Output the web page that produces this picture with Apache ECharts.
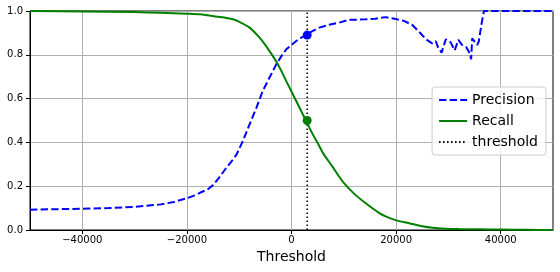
<!DOCTYPE html>
<html><head><meta charset="utf-8">
<script src="https://cdn.jsdelivr.net/npm/echarts@6/dist/echarts.min.js"></script>
<style>html,body{margin:0;padding:0;background:#fff}#c{width:560px;height:272px}</style>
</head><body><div id="c"></div>
<script>
const xTicks = [-40000, -20000, 0, 20000, 40000];
const yTicks = [0, 0.2, 0.4, 0.6, 0.8, 1.0];
const precThr = [-50000,-45000,-40000,-35000,-30000,-25000,-22500,-20000,-18500,-17500,-16000,-15000,-13800,-12500,-11500,-10500,-9300,-8000,-6700,-5500,-4200,-2900,-1900,-1000,0,900,1800,2800,4000,5300,7200,9000,11000,12500,14200,16000,18000,20000,21500,23100,24400,25700,26900,27600,28000,28700,29500,30400,31200,31900,32600,33400,33900,34350,34550,35000,35500,35800,36400,36800,50000];
const precision = [0.093,0.095,0.097,0.100,0.106,0.117,0.128,0.145,0.158,0.170,0.186,0.205,0.240,0.283,0.312,0.345,0.406,0.483,0.559,0.635,0.696,0.757,0.795,0.825,0.845,0.863,0.877,0.890,0.908,0.924,0.937,0.946,0.960,0.960,0.962,0.965,0.972,0.963,0.955,0.936,0.905,0.871,0.852,0.862,0.835,0.810,0.871,0.858,0.820,0.868,0.845,0.835,0.815,0.780,0.875,0.860,0.845,0.860,0.950,1.0,1.0];
const recThr = [-50000,-40000,-30000,-25000,-20000,-17500,-14500,-11200,-9500,-8000,-6100,-4200,-2600,-1000,900,2800,4000,5300,6000,7900,9800,12000,14200,16800,18000,19900,22500,25000,27000,29500,32000,36000,40000,45000,50000];
const recall = [1.0,0.998,0.995,0.992,0.988,0.985,0.975,0.962,0.945,0.924,0.878,0.817,0.757,0.680,0.589,0.498,0.440,0.384,0.352,0.287,0.221,0.165,0.122,0.077,0.062,0.045,0.031,0.017,0.010,0.006,0.004,0.003,0.002,0.001,0.0];
const threshold = 3000;
const precAtThr = 0.89;
const recAtThr = 0.5;

const zip = (a, b) => a.map((v, i) => [v, b[i]]);
const chart = echarts.init(document.getElementById('c'), null, {renderer: 'canvas'});
const font = 'DejaVu Sans';
chart.setOption({
  animation: false,
  textStyle: {fontFamily: font},
  grid: {left: 30, right: 7, top: 11, bottom: 42, show: true, borderColor: '#000', borderWidth: 1, backgroundColor: 'transparent'},
  xAxis: {
    type: 'value', min: -50000, max: 50000,
    name: 'Threshold', nameLocation: 'middle', nameGap: 19,
    nameTextStyle: {fontSize: 14, color: '#000', fontFamily: font},
    axisLine: {show: true, onZero: false, lineStyle: {color: '#000', width: 1}},
    axisTick: {show: true, inside: false, length: 4, customValues: xTicks, lineStyle: {color: '#000'}},
    axisLabel: {customValues: xTicks, fontSize: 10, color: '#000', margin: 5, fontFamily: font,
      formatter: v => String(v).replace('-', '\u2212')},
    splitLine: {show: true, lineStyle: {color: '#b0b0b0', width: 1}}
  },
  yAxis: {
    type: 'value', min: 0, max: 1, interval: 0.2,
    axisLine: {show: true, onZero: false, lineStyle: {color: '#000', width: 1}},
    axisTick: {show: true, inside: false, length: 4, lineStyle: {color: '#000'}},
    axisLabel: {fontSize: 10, color: '#000', margin: 7, fontFamily: font, formatter: v => v.toFixed(1)},
    splitLine: {show: true, lineStyle: {color: '#b0b0b0', width: 1}}
  },
  legend: {
    orient: 'vertical', right: 14, top: 87,
    backgroundColor: 'rgba(255,255,255,0.8)', borderColor: '#cccccc', borderWidth: 1, borderRadius: 3,
    padding: [6, 8, 6, 6], itemGap: 7, itemWidth: 28, itemHeight: 14,
    itemStyle: {opacity: 0},
    textStyle: {fontSize: 14, color: '#000', fontFamily: font},
    data: ['Precision', 'Recall', 'threshold']
  },
  series: [
    {name: 'Precision', type: 'line', data: zip(precThr, precision), showSymbol: false, symbol: 'none',
      color: '#0000ff', lineStyle: {color: '#0000ff', width: 2, type: [7.4, 3.2]}, clip: true, z: 3},
    {name: 'Recall', type: 'line', data: zip(recThr, recall), showSymbol: false, symbol: 'none', smooth: 0.3,
      color: '#008000', lineStyle: {color: '#008000', width: 2}, clip: true, z: 3},
    {name: 'threshold', type: 'line', data: [[threshold, 0], [threshold, 1]], symbol: 'none',
      color: '#000', lineStyle: {color: '#000', width: 1.5, type: [1.5, 2.5]}, z: 2},
    {type: 'scatter', data: [[threshold, precAtThr]], symbolSize: 9, itemStyle: {color: '#0000ff', opacity: 1}, z: 4},
    {type: 'scatter', data: [[threshold, recAtThr]], symbolSize: 9, itemStyle: {color: '#008000', opacity: 1}, z: 4}
  ]
});
</script></body></html>
